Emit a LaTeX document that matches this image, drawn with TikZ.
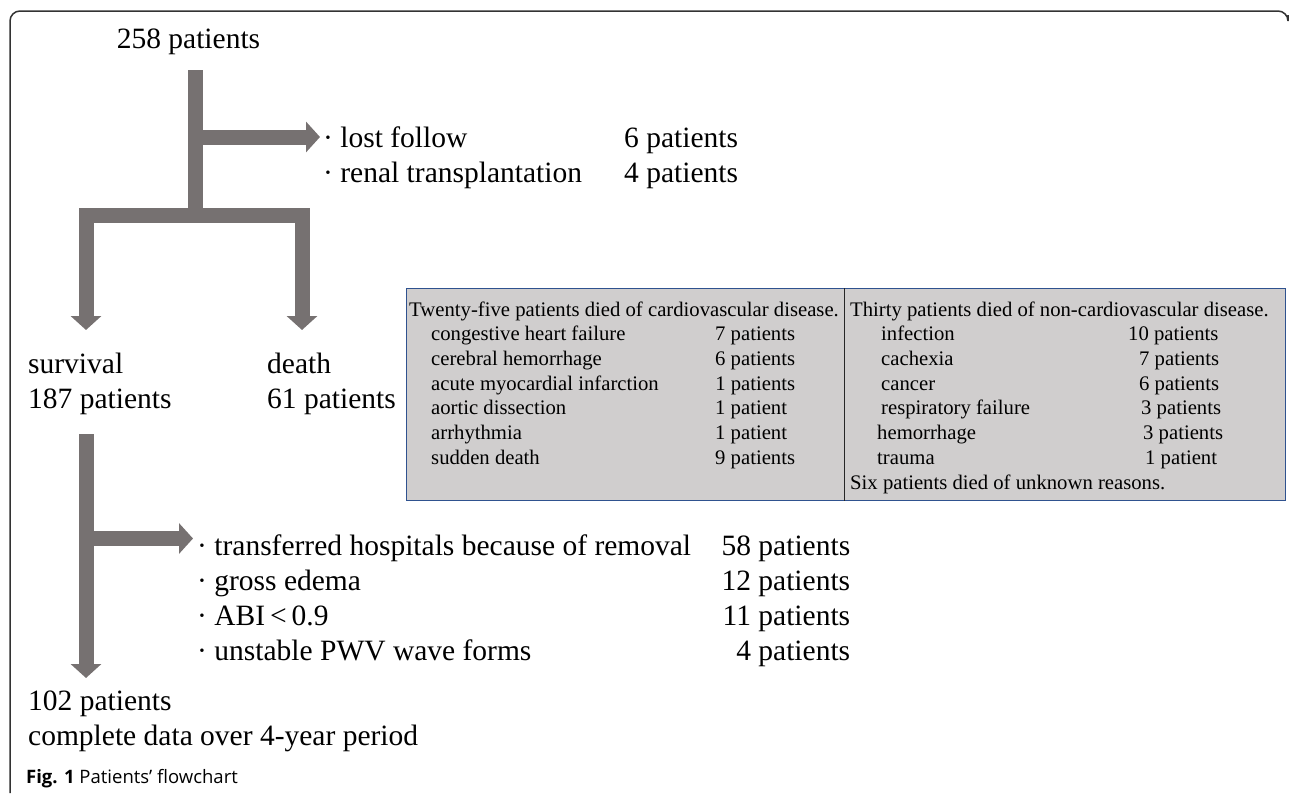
\documentclass[tikz,border=0pt]{standalone}
\usepackage{fontspec}
\setmainfont{Liberation Serif}
\newfontfamily\capfont{Open Sans}
\usetikzlibrary{arrows.meta,positioning}

\definecolor{arrowgray}{RGB}{118,113,113}
\definecolor{boxgray}{RGB}{208,206,206}
\definecolor{boxline}{RGB}{47,82,143}

\begin{document}
\begin{tikzpicture}[x=1pt,y=1pt,
  fat/.style={
    draw=arrowgray,
    line width=15pt,
    line join=miter
  },
  fathead/.style={-{Triangle[width=30pt,length=14pt]}},
  big/.style={font=\fontsize{29.5}{35}\selectfont, inner sep=0pt, anchor=base west},
  small/.style={font=\fontsize{20.7}{24.7}\selectfont, inner sep=0pt, anchor=north west},
  causebox/.style={rectangle, draw=boxline, line width=1.3pt, fill=boxgray,
    inner sep=0pt, anchor=north west},
  frameline/.style={draw=black!80, line width=1.5pt, rounded corners=10pt},
  caption/.style={font=\capfont\fontsize{18.5}{22}\selectfont, inner sep=0pt, anchor=base west}]
  \useasboundingbox (0,0) rectangle (1290,-795);
  % frame
  \draw[frameline] (10,-793) -- (10,-11) -- (1288,-11) -- (1288,-15);

  % top part
  \node[big, anchor=base] (total) at (188.5,-48) {258 patients};
  \coordinate (trunk top) at (195.5,-70);
  \coordinate (exit1) at (195.5,-137);
  \coordinate (fork left) at (86,-215.5);
  \coordinate (fork right) at (302,-215.5);
  \coordinate (surv tip) at (86,-330);
  \coordinate (death tip) at (302,-330);
  \node[big, anchor=north west] (lost) at (323,-122.5) {%
    \begin{tabular}{@{}p{301pt}@{}l@{}}
      ·\ lost follow & 6 patients\\
      ·\ renal transplantation & 4 patients
    \end{tabular}};
  \draw[fat] (trunk top) -- (fork left -| trunk top);
  \draw[fat, fathead] (exit1) -- ([xshift=-3pt]exit1 -| lost.west);
  \draw[fat, {Triangle[width=30pt,length=14pt]}-{Triangle[width=30pt,length=14pt]}]
    (surv tip) -- (fork left) -- (fork right) -- (death tip);

  \node[big] (survival) at (28,-373) {survival};
  \node[big] (survival n) at (28,-408) {187 patients};
  \node[big] (death) at (267,-373) {death};
  \node[big] (death n) at (267,-408) {61 patients};

  % causes of death
  \node[causebox, minimum width=879pt, minimum height=212pt] (causes) at (406,-288) {};
  \draw[black!85, line width=1pt] ([xshift=438pt]causes.north west) -- ([xshift=438pt]causes.south west);
  \node[small] (cvd) at (409,-298.7) {%
    \begin{tabular}{@{}p{306pt}@{}l@{}}
      \multicolumn{2}{@{}l@{}}{Twenty-five patients died of cardiovascular disease.}\\
      \hspace*{22pt}congestive heart failure & 7 patients\\
      \hspace*{22pt}cerebral hemorrhage & 6 patients\\
      \hspace*{22pt}acute myocardial infarction & 1 patients\\
      \hspace*{22pt}aortic dissection & 1 patient\\
      \hspace*{22pt}arrhythmia & 1 patient\\
      \hspace*{22pt}sudden death & 9 patients
    \end{tabular}};
  \node[small] (noncvd) at (850,-298.7) {%
    \begin{tabular}{@{}p{278pt}@{}l@{}}
      \multicolumn{2}{@{}l@{}}{Thirty patients died of non-cardiovascular disease.}\\
      \hspace*{31pt}infection & 10 patients\\
      \hspace*{31pt}cachexia & \hspace*{11pt}7 patients\\
      \hspace*{31pt}cancer & \hspace*{11pt}6 patients\\
      \hspace*{31pt}respiratory failure & \hspace*{13pt}3 patients\\
      \hspace*{27pt}hemorrhage & \hspace*{15pt}3 patients\\
      \hspace*{27pt}trauma & \hspace*{17pt}1 patient\\
      \multicolumn{2}{@{}l@{}}{Six patients died of unknown reasons.}
    \end{tabular}};

  % lower part
  \coordinate (stem top) at (86,-434);
  \coordinate (stem tip) at (86,-678);
  \coordinate (exit2) at (86,-538.5);
  \node[big, anchor=north west] (removed) at (197,-530.5) {%
    \begin{tabular}{@{}p{653pt}@{}}
      ·\ transferred hospitals because of removal\hfill 58 patients\\
      ·\ gross edema\hfill 12 patients\\
      ·\ ABI\,<\,0.9\hfill 11 patients\\
      ·\ unstable PWV wave forms\hfill 4 patients
    \end{tabular}};
  \draw[fat, fathead] (stem top) -- (stem tip);
  \draw[fat, fathead] (exit2) -- ([xshift=-4pt]exit2 -| removed.west);

  \node[big] (final) at (28,-710) {102 patients};
  \node[big] (final note) at (28,-745) {complete data over 4-year period};
  \node[caption] (cap) at (26,-783) {\textbf{Fig. 1} Patients’ flowchart};
\end{tikzpicture}
\end{document}
